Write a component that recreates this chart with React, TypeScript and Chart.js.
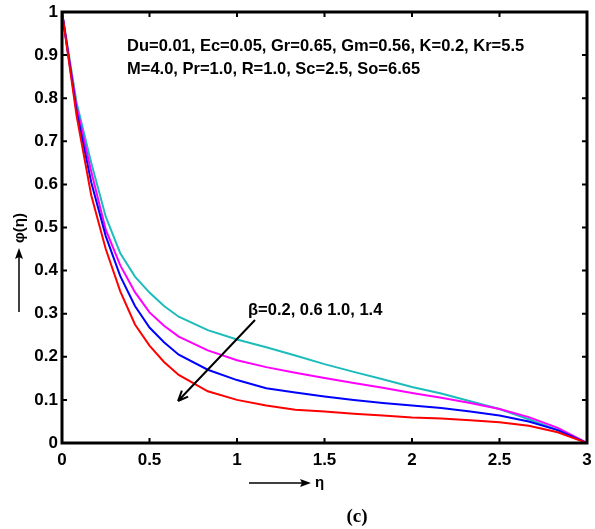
import React, { useEffect, useRef } from "react";
import { Chart, registerables } from "chart.js";

Chart.register(...registerables);

const eta = [0, 0.083, 0.167, 0.25, 0.333, 0.417, 0.5, 0.583, 0.667, 0.833, 1.0, 1.167, 1.333, 1.5, 1.667, 1.833, 2.0, 2.167, 2.333, 2.5, 2.667, 2.833, 3.0];

const phiBeta02 = [1, 0.79, 0.65, 0.525, 0.44, 0.386, 0.349, 0.318, 0.293, 0.262, 0.24, 0.222, 0.203, 0.183, 0.165, 0.148, 0.13, 0.115, 0.097, 0.079, 0.055, 0.03, 0];
const phiBeta06 = [1, 0.78, 0.63, 0.495, 0.412, 0.35, 0.303, 0.272, 0.247, 0.215, 0.192, 0.176, 0.163, 0.151, 0.139, 0.128, 0.116, 0.105, 0.093, 0.079, 0.06, 0.035, 0];
const phiBeta10 = [1, 0.77, 0.605, 0.48, 0.387, 0.318, 0.268, 0.234, 0.205, 0.17, 0.146, 0.127, 0.117, 0.108, 0.1, 0.093, 0.087, 0.081, 0.073, 0.064, 0.05, 0.03, 0];
const phiBeta14 = [1, 0.76, 0.575, 0.45, 0.352, 0.275, 0.226, 0.188, 0.158, 0.12, 0.1, 0.087, 0.077, 0.073, 0.068, 0.064, 0.059, 0.057, 0.053, 0.048, 0.04, 0.025, 0];

const xTicks = [0, 0.5, 1, 1.5, 2, 2.5, 3];
const yTicks = [0, 0.1, 0.2, 0.3, 0.4, 0.5, 0.6, 0.7, 0.8, 0.9, 1];

const paramLine1 = "Du=0.01, Ec=0.05, Gr=0.65, Gm=0.56, K=0.2, Kr=5.5";
const paramLine2 = "M=4.0, Pr=1.0, R=1.0, Sc=2.5, So=6.65";
const betaLabel = "\u03b2=0.2, 0.6 1.0, 1.4";
const xLabel = "\u03b7";
const yLabel = "\u03c6(\u03b7)";
const panelLabel = "(c)";

const toPoints = (ys: number[]) => eta.map((x, i) => ({ x, y: ys[i] }));

const SANS = "'Liberation Sans', Arial, sans-serif";

const decorPlugin = {
  id: "decor",
  afterDraw(chart: any) {
    const ctx = chart.ctx as CanvasRenderingContext2D;
    const xs = chart.scales.x;
    const ys = chart.scales.y;
    const { left, right, top, bottom } = chart.chartArea;
    ctx.save();
    ctx.strokeStyle = "#000";
    ctx.fillStyle = "#000";
    // inner ticks
    ctx.lineWidth = 2;
    const tl = 5;
    ctx.beginPath();
    xTicks.forEach((v) => {
      const px = xs.getPixelForValue(v);
      ctx.moveTo(px, bottom);
      ctx.lineTo(px, bottom - tl);
      ctx.moveTo(px, top);
      ctx.lineTo(px, top + tl);
    });
    yTicks.forEach((v) => {
      const py = ys.getPixelForValue(v);
      ctx.moveTo(left, py);
      ctx.lineTo(left + tl, py);
      ctx.moveTo(right, py);
      ctx.lineTo(right - tl, py);
    });
    ctx.stroke();
    // frame
    ctx.lineWidth = 3;
    ctx.strokeRect(left, top, right - left, bottom - top);

    // parameter text
    ctx.font = `bold 16.5px ${SANS}`;
    ctx.textAlign = "left";
    ctx.textBaseline = "middle";
    ctx.fillText(paramLine1, 127, 46);
    ctx.fillText(paramLine2, 127, 69);

    // beta label
    ctx.fillText(betaLabel, 248, 310);

    // annotation arrow
    ctx.lineWidth = 2;
    const ax0 = 255, ay0 = 320, ax1 = 178, ay1 = 401;
    ctx.beginPath();
    ctx.moveTo(ax0, ay0);
    ctx.lineTo(ax1, ay1);
    const ang = Math.atan2(ay1 - ay0, ax1 - ax0);
    const hl = 11;
    ctx.moveTo(ax1, ay1);
    ctx.lineTo(ax1 - hl * Math.cos(ang - 0.4), ay1 - hl * Math.sin(ang - 0.4));
    ctx.moveTo(ax1, ay1);
    ctx.lineTo(ax1 - hl * Math.cos(ang + 0.4), ay1 - hl * Math.sin(ang + 0.4));
    ctx.stroke();

    // x label arrow
    ctx.lineWidth = 1.5;
    ctx.beginPath();
    ctx.moveTo(249, 483);
    ctx.lineTo(304, 483);
    ctx.stroke();
    ctx.beginPath();
    ctx.moveTo(311, 483);
    ctx.lineTo(300, 479);
    ctx.lineTo(302, 483);
    ctx.lineTo(300, 487);
    ctx.closePath();
    ctx.fill();
    ctx.font = `bold 15px ${SANS}`;
    ctx.textAlign = "left";
    ctx.fillText(xLabel, 315, 483);

    // y label arrow
    ctx.beginPath();
    ctx.moveTo(19, 312);
    ctx.lineTo(19, 256);
    ctx.stroke();
    ctx.beginPath();
    ctx.moveTo(19, 248);
    ctx.lineTo(15, 259);
    ctx.lineTo(19, 257);
    ctx.lineTo(23, 259);
    ctx.closePath();
    ctx.fill();
    ctx.save();
    ctx.translate(20, 228);
    ctx.rotate(-Math.PI / 2);
    ctx.textAlign = "center";
    ctx.textBaseline = "middle";
    ctx.fillText(yLabel, 0, 0);
    ctx.restore();

    // panel label
    ctx.font = `bold 19px 'Liberation Serif', 'Times New Roman', serif`;
    ctx.textAlign = "center";
    ctx.textBaseline = "alphabetic";
    ctx.fillText(panelLabel, 357, 522);
    ctx.restore();
  },
};

export default function App() {
  const ref = useRef<HTMLCanvasElement | null>(null);
  useEffect(() => {
    document.body.style.margin = "0";
    if (!ref.current) return;
    const tickFont = { family: SANS, size: 17, weight: "bold" as const };
    const chart = new Chart(ref.current, {
      type: "line",
      data: {
        datasets: [
          { label: "β=1.4", data: toPoints(phiBeta14), borderColor: "#ff0000" },
          { label: "β=1.0", data: toPoints(phiBeta10), borderColor: "#0000ff" },
          { label: "β=0.6", data: toPoints(phiBeta06), borderColor: "#ff00ff" },
          { label: "β=0.2", data: toPoints(phiBeta02), borderColor: "#1cbcbc" },
        ].map((d) => ({ ...d, borderWidth: 2, pointRadius: 0, tension: 0, fill: false })),
      },
      plugins: [decorPlugin],
      options: {
        animation: false,
        responsive: false,
        maintainAspectRatio: false,
        layout: { padding: { left: 0, right: 8, top: 12, bottom: 0 } },
        plugins: { legend: { display: false }, tooltip: { enabled: false } },
        scales: {
          x: {
            type: "linear",
            min: 0,
            max: 3,
            afterBuildTicks: (s: any) => {
              s.ticks = xTicks.map((v) => ({ value: v }));
            },
            afterFit: (s: any) => {
              s.height = 86;
              s.paddingLeft = 0;
              s.paddingRight = 0;
            },
            grid: { display: false, drawTicks: false },
            border: { display: false },
            ticks: {
              padding: 7,
              color: "#000",
              font: tickFont,
              maxRotation: 0,
              autoSkip: false,
              callback: (v: any) => String(Number(Number(v).toFixed(1))),
            },
          },
          y: {
            type: "linear",
            min: 0,
            max: 1,
            afterBuildTicks: (s: any) => {
              s.ticks = yTicks.map((v) => ({ value: v }));
            },
            afterFit: (s: any) => {
              s.width = 62;
              s.paddingTop = 0;
              s.paddingBottom = 0;
            },
            grid: { display: false, drawTicks: false },
            border: { display: false },
            ticks: {
              padding: 4,
              color: "#000",
              font: tickFont,
              autoSkip: false,
              callback: (v: any) => String(Number(Number(v).toFixed(1))),
            },
          },
        },
      },
    });
    return () => chart.destroy();
  }, []);
  return (
    <div style={{ position: "absolute", left: 0, top: 0, width: 595, height: 529, background: "#fff" }}>
      <canvas ref={ref} width={595} height={529} style={{ width: 595, height: 529 }} />
    </div>
  );
}
